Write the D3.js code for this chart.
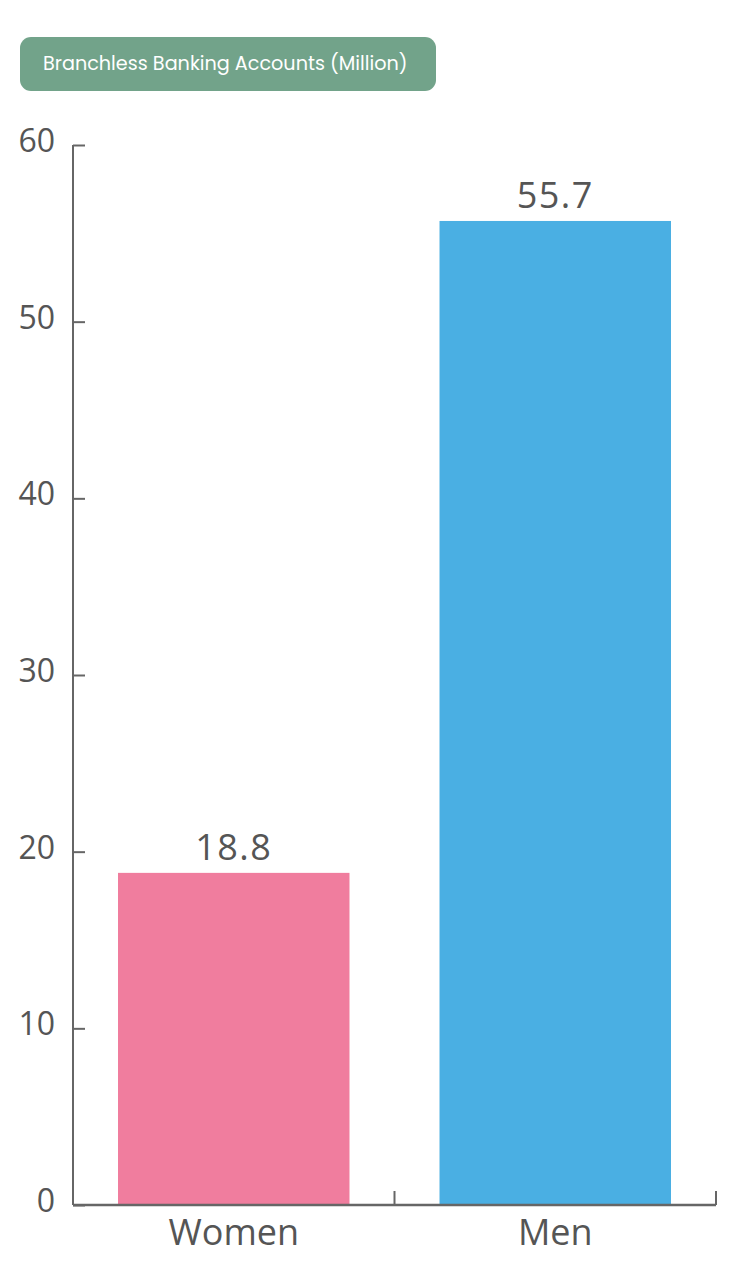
<!DOCTYPE html>
<html><head><meta charset="utf-8">
<script src="https://cdn.jsdelivr.net/npm/d3@7"></script>
<style>body{margin:0;background:#fff;}svg{display:block;}</style>
</head><body>
<script>
const title = "Branchless Banking Accounts (Million)";
const categories = ["Women", "Men"];
const values = [18.8, 55.7];
const colors = ["#f07d9e", "#4aafe3"];
const yTicks = [0, 10, 20, 30, 40, 50, 60];

(function () {
const W = 733, H = 1280;
const svg = d3.select("body").append("svg").attr("width", W).attr("height", H);
const mLeft = 73, mRight = 716, mTop = 145, mBottom = 1205;
const axisColor = "#666";
const textColor = "#555";

// title box
svg.append("rect").attr("x", 20).attr("y", 37).attr("width", 416).attr("height", 54)
  .attr("rx", 11).attr("fill", "#72a38a");
svg.append("text").attr("x", 43).attr("y", 70).attr("fill", "#fff")
  .attr("font-family", "Poppins, 'Noto Sans', sans-serif").attr("font-size", 19.2)
  .text(title);

const y = d3.scaleLinear().domain([0, 60]).range([mBottom, mTop]);
const xBand = d3.scaleBand().domain(categories).range([mLeft, mRight]);
const xBar = d3.scaleBand().domain(categories).range([mLeft, mRight]).paddingInner(0.28).paddingOuter(0.14);

// bars
svg.selectAll("rect.bar").data(categories).enter().append("rect").attr("class", "bar")
  .attr("x", d => xBar(d)).attr("width", xBar.bandwidth())
  .attr("y", (d, i) => y(values[i])).attr("height", (d, i) => y(0) - y(values[i]))
  .attr("fill", (d, i) => colors[i]);

// value labels
svg.selectAll("text.val").data(categories).enter().append("text").attr("class", "val")
  .attr("x", d => xBar(d) + xBar.bandwidth() / 2)
  .attr("y", (d, i) => y(values[i]) - 13)
  .attr("text-anchor", "middle").attr("fill", textColor)
  .attr("font-family", "'Open Sans', sans-serif").attr("font-size", 36)
  .attr("letter-spacing", 1.5)
  .text((d, i) => values[i].toFixed(1));

// y axis
const yAxis = d3.axisLeft(y).tickValues(yTicks).tickSizeInner(-12).tickSizeOuter(-12).tickPadding(18);
const gy = svg.append("g").attr("transform", `translate(${mLeft},0)`).call(yAxis);
gy.select(".domain").remove();
gy.selectAll(".tick line").attr("stroke", axisColor).attr("stroke-width", 2);
gy.selectAll(".tick text").attr("fill", textColor).attr("font-family", "'Open Sans', sans-serif")
  .attr("font-size", 32).attr("dy", "0.2em");
gy.append("line").attr("x1", 0).attr("x2", 0).attr("y1", mTop).attr("y2", mBottom)
  .attr("stroke", axisColor).attr("stroke-width", 2);

// x axis
const gx = svg.append("g").attr("transform", `translate(0,${mBottom})`);
gx.append("line").attr("x1", mLeft).attr("x2", mRight).attr("y1", 0).attr("y2", 0)
  .attr("stroke", axisColor).attr("stroke-width", 2.5);
const bounds = categories.map(c => xBand(c) + xBand.bandwidth());
gx.selectAll("line.sep").data(bounds).enter().append("line").attr("class", "sep")
  .attr("x1", d => d).attr("x2", d => d).attr("y1", 0).attr("y2", -14)
  .attr("stroke", axisColor).attr("stroke-width", 2);
gx.selectAll("text.cat").data(categories).enter().append("text").attr("class", "cat")
  .attr("x", d => xBand(d) + xBand.bandwidth() / 2).attr("y", 40)
  .attr("text-anchor", "middle").attr("fill", textColor)
  .attr("font-family", "'Open Sans', sans-serif").attr("font-size", 36)
  .text(d => d);
})();
</script>
</body></html>
